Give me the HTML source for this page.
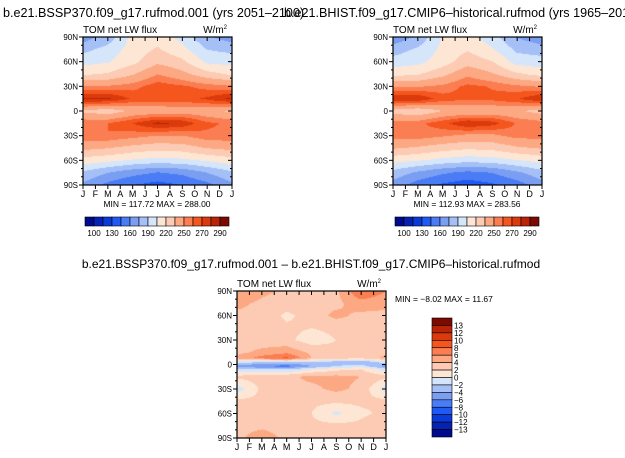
<!DOCTYPE html>
<html><head><meta charset="utf-8"><style>
body{margin:0;background:#fff;}
#wrap{position:relative;width:625px;height:458px;overflow:hidden;background:#fff;font-family:"Liberation Sans",sans-serif;}
canvas{position:absolute;}
svg{position:absolute;left:0;top:0;}
</style></head><body>
<div id="wrap">
<canvas id="c1" width="149" height="148" style="left:83px;top:37px"></canvas>
<canvas id="c2" width="149" height="148" style="left:393px;top:37px"></canvas>
<canvas id="c3" width="149" height="147" style="left:237px;top:291px"></canvas>
<svg id="ov" width="625" height="458"></svg>
</div>
<script>
// ---- data ----
const monthCols = [0, 2, 4, 6, 8, 10, 12];
const latRows = [90, 75, 60, 45, 30, 15, 0, -15, -30, -45, -60, -75, -90];
const fluxFuture = [
 [168,182,210,214,200,178,168],
 [186,196,212,222,210,190,186],
 [200,204,216,232,224,202,200],
 [218,222,234,250,240,226,218],
 [252,252,256,266,262,256,252],
 [283,282,268,266,266,272,283],
 [232,226,238,240,242,240,232],
 [258,260,270,283,278,262,258],
 [258,260,255,250,250,258,258],
 [240,236,230,226,228,236,240],
 [214,210,204,200,202,208,214],
 [188,176,166,160,164,176,188],
 [172,156,146,140,146,156,172]
];
const fluxHist = [
 [165,179,207,211,197,175,165],
 [183,193,209,219,207,187,183],
 [197,201,213,229,221,199,197],
 [215,219,231,247,237,223,215],
 [249,249,253,263,259,253,249],
 [280,279,265,263,263,269,280],
 [229,223,235,237,239,237,229],
 [255,257,267,280,275,259,255],
 [255,257,252,247,247,255,255],
 [237,233,227,223,225,233,237],
 [211,207,201,197,199,205,211],
 [185,173,163,157,161,173,185],
 [169,153,143,137,143,153,169]
];
const diffLatRows = [90, 75, 60, 45, 30, 15, 8, 3, -2, -6, -15, -30, -45, -60, -75, -90];
const diffVals = [
 [6,4.5,3.5,3.5,3.5,8,6],
 [4.5,3.5,3,3.5,3.5,5,4.5],
 [3.5,3.5,1.5,3,4.5,3.5,3.5],
 [3.5,3,2.5,2,2.5,3,3.5],
 [3,3,2.5,1,2,2.5,3],
 [3.5,4.5,5.5,3.5,2.5,2.5,3.5],
 [4.5,7,8.5,4,3,2.5,4.5],
 [-1,-2,-2,-2,-3,-4,-1],
 [-5,-6,-7,-4,-2,-1,-5],
 [-1,-2,-2,0,1.5,2,-1],
 [2.5,3,3.5,4.5,4.5,4,2.5],
 [-1,2.5,3.5,3.5,4.5,3.5,-1],
 [2.5,2.5,2.5,2.5,2.5,2.5,2.5],
 [2.5,2.5,2,2,-0.5,1.5,2.5],
 [3.5,3.5,3,2.5,2.5,2.5,3.5],
 [3.5,5,3.5,3.5,3.5,3.5,3.5]
];
const fluxLevels = [100,115,130,145,160,175,190,205,220,235,250,260,270,280,290];
const fluxLabels = ["100","130","160","190","220","250","270","290"];
const diffLevels = [-13,-12,-10,-8,-6,-4,-2,0,2,4,6,8,10,12,13];
const diffLabels = ["13","12","10","8","6","4","2","0","\u22122","\u22124","\u22126","\u22128","\u221210","\u221212","\u221213"];
const monthLabels = ["J","F","M","A","M","J","J","A","S","O","N","D","J"];
const latLabels = ["90N","60N","30N","0","30S","60S","90S"];
const palette = ["#000a8c","#0522b0","#0a3ad8","#1f5af5","#4a7cf5","#7a9ef2","#a5c0f7","#d5e6fb","#fee6d5","#fdcbb3","#fca882","#fb7e52","#f4561e","#db3a0c","#b82405","#7d0a00"];

function hex(c){return [parseInt(c.substr(1,2),16),parseInt(c.substr(3,2),16),parseInt(c.substr(5,2),16)];}
const palRGB = palette.map(hex);
function bracket(arr, v, desc){
  for(let i=0;i<arr.length-1;i++){
    const a=arr[i],b=arr[i+1];
    if(desc ? (v<=a && v>=b) : (v>=a && v<=b)) return [i,(v-a)/(b-a)];
  }
  return [arr.length-2,1];
}
function sample(grid, lats, month, lat){
  const [ci,ct]=bracket(monthCols,month,false);
  const [ri,rt]=bracket(lats,lat,true);
  const a=grid[ri][ci],b=grid[ri][ci+1],c=grid[ri+1][ci],d=grid[ri+1][ci+1];
  return (a*(1-ct)+b*ct)*(1-rt)+(c*(1-ct)+d*ct)*rt;
}
function levelIndex(levels,v){let k=0;while(k<levels.length&&v>=levels[k])k++;return k;}
function drawField(id, grid, lats, levels){
  const cv=document.getElementById(id),ctx=cv.getContext('2d');
  const W=cv.width,H=cv.height,img=ctx.createImageData(W,H);
  for(let y=0;y<H;y++)for(let x=0;x<W;x++){
    const m=x/(W-1)*12, lat=90-y/(H-1)*180;
    const v=sample(grid,lats,m,lat);
    const col=palRGB[levelIndex(levels,v)];
    const p=(y*W+x)*4;img.data[p]=col[0];img.data[p+1]=col[1];img.data[p+2]=col[2];img.data[p+3]=255;
  }
  ctx.putImageData(img,0,0);
}
drawField('c1',fluxFuture,latRows,fluxLevels);
drawField('c2',fluxHist,latRows,fluxLevels);
drawField('c3',diffVals,diffLatRows,diffLevels);

const NS='http://www.w3.org/2000/svg';
const ov=document.getElementById('ov');
function el(tag,attrs,parent){const e=document.createElementNS(NS,tag);for(const k in attrs)e.setAttribute(k,attrs[k]);(parent||ov).appendChild(e);return e;}
function txt(s,x,y,size,anchor,name,parent){const t=el('text',{x:x,y:y,'font-size':size,'text-anchor':anchor||'start','font-family':'Liberation Sans, sans-serif',fill:'#000'},parent);t.textContent=s;return t;}

function panel(x0,y0,w,h,name,minmax,mmx,mmy,mmAnchor){
  const g=el('g',{});
  
  
  const xs=m=>x0+m/12*w, ys=lat=>y0+(90-lat)/180*h;
  el('rect',{x:x0,y:y0,width:w,height:h,fill:'none',stroke:'#000','stroke-width':1.2},g);
  for(let m=0;m<=12;m++){
    const X=xs(m);
    el('line',{x1:X,y1:y0+h,x2:X,y2:y0+h+4,stroke:'#000'},g);
    el('line',{x1:X,y1:y0,x2:X,y2:y0+4,stroke:'#000'},g);
    txt(monthLabels[m],X,y0+h+12,9,'middle','x-tick-label',g);
  }
  for(let lat=90;lat>=-90;lat-=10){
    const Y=ys(lat),major=(lat%30===0);
    el('line',{x1:x0-(major?4:2),y1:Y,x2:x0,y2:Y,stroke:'#000'},g);
    el('line',{x1:x0+w,y1:Y,x2:x0+w-(major?4:2),y2:Y,stroke:'#000'},g);
  }
  latLabels.forEach((s,i)=>txt(s,x0-5,ys(90-30*i)+3,8,'end','y-tick-label',g));
  txt('TOM net LW flux',x0,y0-4,10,'start','variable-label',g);
  const u=txt('W/m',x0+w-5,y0-4,10,'end','units-label',g);
  const sup=el('tspan',{dy:-4,'font-size':6},u);sup.textContent='2';
  txt(minmax,mmx,mmy,8.5,mmAnchor,'min-max-label',g);
}
txt('b.e21.BSSP370.f09_g17.rufmod.001 (yrs 2051\u20132100)',3,17,12.6,'start','title-left');
txt('b.e21.BHIST.f09_g17.CMIP6\u2013historical.rufmod (yrs 1965\u20132014)',284,17,12.6,'start','title-right');
txt('b.e21.BSSP370.f09_g17.rufmod.001 \u2013 b.e21.BHIST.f09_g17.CMIP6\u2013historical.rufmod',311,268,12,'middle','title-diff');
panel(83,37,149,148,'panel-bssp370','MIN = 117.72  MAX = 288.00',157,207,'middle');
panel(393,37,149,148,'panel-bhist','MIN = 112.93  MAX = 283.56',467,207,'middle');
panel(237,291,149,147,'panel-difference','MIN =  \u22128.02  MAX =  11.67',395,302,'start');

function hbar(x0,y0,name){
  const g=el('g',{});
  const bw=9;
  palette.forEach((c,i)=>el('rect',{x:x0+i*bw,y:y0,width:bw,height:9,fill:c,stroke:'#000','stroke-width':0.6},g));
  fluxLabels.forEach((s,i)=>txt(s,x0+bw*(1+2*i),y0+19,8,'middle','colorbar-label',g));
}
hbar(85,217,'colorbar-bssp370');
hbar(395,217,'colorbar-bhist');
(function(){
  const g=el('g',{});
  const x0=432,y0=318,bh=119/16;
  for(let i=0;i<16;i++)el('rect',{x:x0,y:y0+i*bh,width:20,height:bh,fill:palette[15-i],stroke:'#000','stroke-width':0.6},g);
  diffLabels.forEach((s,i)=>txt(s,x0+22,y0+bh*(i+1)+3,8,'start','colorbar-label',g));
})();
</script>
</body></html>
